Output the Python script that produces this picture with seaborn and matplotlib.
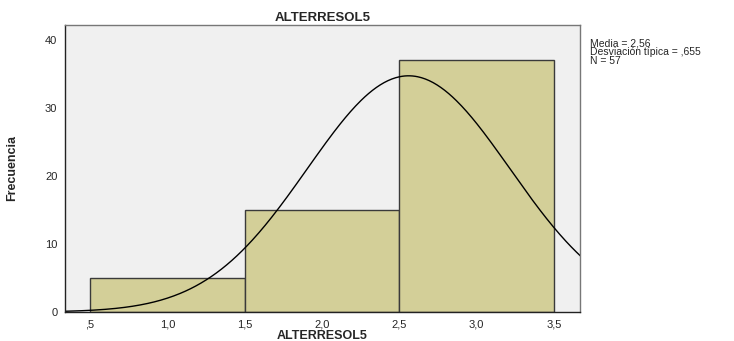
import numpy as np
import pandas as pd
import matplotlib
matplotlib.use("Agg")
import matplotlib.pyplot as plt
import seaborn as sns

# Data
categories = [1, 2, 3]
counts = [5, 15, 37]
bin_edges = [0.5, 1.5, 2.5, 3.5]
mean_val = 2.56
sd_val = 0.655
n_val = 57
x_ticks = [0.5, 1.0, 1.5, 2.0, 2.5, 3.0, 3.5]
x_tick_labels = [",5", "1,0", "1,5", "2,0", "2,5", "3,0", "3,5"]
y_ticks = [0, 10, 20, 30, 40]

sns.set_style("white")
plt.rcParams['font.family'] = ['Liberation Sans', 'DejaVu Sans']

values = np.repeat(categories, counts)
df = pd.DataFrame({"ALTERRESOL5": values})

fig = plt.figure(figsize=(7.34, 3.41), dpi=100)
ax = fig.add_axes([0.0886, 0.085, 0.7016, 0.842])
ax.set_facecolor("#f0f0f0")

sns.histplot(data=df, x="ALTERRESOL5", bins=bin_edges, ax=ax,
             color="#d3cf98", alpha=1.0, edgecolor="#3a3a3a", linewidth=1.0)

xs = np.linspace(0.34, 3.67, 400)
ys = n_val * 1.0 * np.exp(-0.5 * ((xs - mean_val) / sd_val) ** 2) / (sd_val * np.sqrt(2 * np.pi))
sns.lineplot(x=xs, y=ys, ax=ax, color="black", linewidth=1.0)

ax.set_xlim(0.339, 3.668)
ax.set_ylim(0, 42.2)
ax.set_xticks(x_ticks)
ax.set_xticklabels(x_tick_labels, fontsize=8)
ax.set_yticks(y_ticks)
ax.set_yticklabels([str(t) for t in y_ticks], fontsize=8)
ax.tick_params(axis="both", direction="out", length=4, width=1, color="#333333", pad=1.5)

for s in ax.spines.values():
    s.set_color("#777777")
    s.set_linewidth(1)
ax.spines["left"].set_color("#222222")
ax.spines["bottom"].set_color("#222222")

ax.set_title("ALTERRESOL5", fontsize=9.5, fontweight="bold", pad=3)
ax.set_xlabel("ALTERRESOL5", fontsize=9, fontweight="bold")
ax.xaxis.set_label_coords(0.5, -0.064, transform=ax.transAxes)
ax.xaxis.label.set_va("top")
ax.set_ylabel("Frecuencia", fontsize=9, fontweight="bold",
              family=["Liberation Sans Narrow", "Liberation Sans", "DejaVu Sans"])
ax.yaxis.set_label_coords(-47 / 515, 0.5)

fig.text(590 / 734, 1 - 38 / 341, "Media = 2,56\nDesviación típica = ,655\nN = 57",
         fontsize=7.5, va="top", ha="left", linespacing=0.9)

fig.savefig("out.png", dpi=100)
